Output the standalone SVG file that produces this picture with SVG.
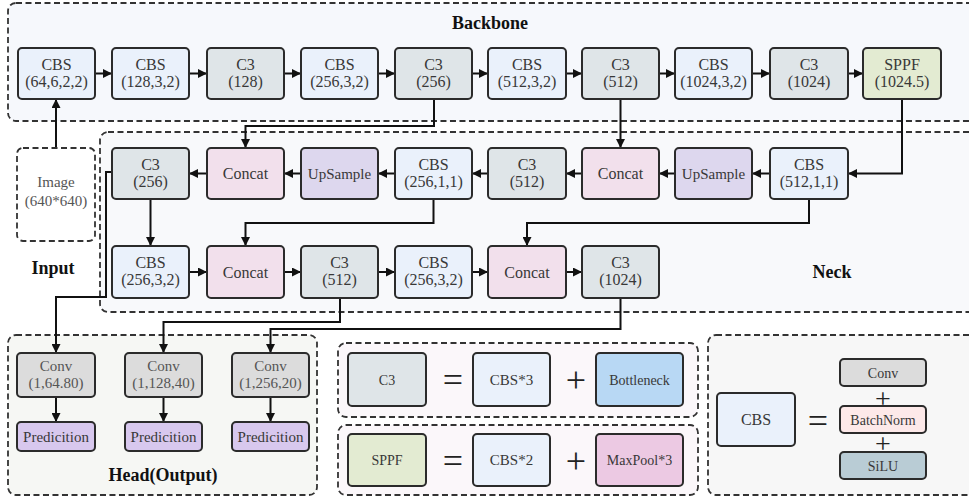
<svg xmlns="http://www.w3.org/2000/svg" width="969" height="500" viewBox="0 0 969 500" font-family="'Liberation Serif', serif">
<defs>
<marker id="ah" viewBox="0 0 10 10" refX="10" refY="5" markerWidth="9" markerHeight="9" markerUnits="userSpaceOnUse" orient="auto">
<path d="M0,0 L10,5 L0,10 z" fill="#111"/>
</marker>
<style>
.box{stroke:#2b2b2b;stroke-width:2;}
.cont{stroke:#333;stroke-width:1.8;stroke-dasharray:6 3.5;}
.cbs{fill:#eaf1fb;}
.c3{fill:#dfe5e8;}
.sppf{fill:#e3ebd2;}
.concat{fill:#f2e0ec;}
.ups{fill:#ddd7ee;}
.conv{fill:#dcdcdc;}
.pred{fill:#d8c8ee;}
.bott{fill:#b8d8f4;}
.maxp{fill:#ecc9e3;}
.bn{fill:#fde9e9;}
.silu{fill:#b9ccd5;}
text{font-family:"Liberation Serif","Times New Roman",serif;fill:#383838;text-anchor:middle;}
.t17{font-size:16px;font-family:"Liberation Serif",serif;}
.t15{font-size:15px;font-family:"Liberation Serif",serif;}
.t14{font-size:14px;font-family:"Liberation Serif",serif;}
.lbl{font-size:18px;font-weight:bold;fill:#111;font-family:"Liberation Serif",serif;}
.sym{font-size:36px;fill:#222;font-family:"Liberation Serif",serif;}
.gray{fill:#555;}
.conn{fill:none;stroke:#111;stroke-width:2;}
</style>
</defs>
<rect width="969" height="500" fill="#ffffff"/>

<g id="containers">
<rect class="cont" x="8" y="3" width="980" height="118" rx="8" fill="#f6f8fc"/>
<rect class="cont" x="100" y="132" width="890" height="180" rx="8" fill="#f8f9fb"/>
<rect class="cont" x="8" y="335" width="309" height="160" rx="8" fill="#f6f7f4"/>
<rect class="cont" x="338" y="343" width="360" height="74" rx="8" fill="#fbf7fa"/>
<rect class="cont" x="338" y="425" width="360" height="70" rx="8" fill="#fbf7fa"/>
<rect class="cont" x="708" y="335" width="290" height="160" rx="8" fill="#f7f7f7"/>
</g>

<g id="labels">
<text class="lbl" x="490" y="29">Backbone</text>
<text class="lbl" x="832" y="278">Neck</text>
<text class="lbl" x="53" y="274">Input</text>
<text class="lbl" x="163" y="481">Head(Output)</text>
</g>

<g id="connectors">
<path class="conn" d="M56,148 L56,99" marker-end="url(#ah)"/>
<path class="conn" d="M95,73.5 L112,73.5" marker-end="url(#ah)"/>
<path class="conn" d="M189,73.5 L207,73.5" marker-end="url(#ah)"/>
<path class="conn" d="M284,73.5 L301,73.5" marker-end="url(#ah)"/>
<path class="conn" d="M378,73.5 L395,73.5" marker-end="url(#ah)"/>
<path class="conn" d="M472,73.5 L488,73.5" marker-end="url(#ah)"/>
<path class="conn" d="M566,73.5 L582,73.5" marker-end="url(#ah)"/>
<path class="conn" d="M659,73.5 L675,73.5" marker-end="url(#ah)"/>
<path class="conn" d="M752,73.5 L770,73.5" marker-end="url(#ah)"/>
<path class="conn" d="M848,73.5 L863,73.5" marker-end="url(#ah)"/>
<path class="conn" d="M434,99 L434,126 L245.5,126 L245.5,148" marker-end="url(#ah)"/>
<path class="conn" d="M620.5,99 L620.5,148" marker-end="url(#ah)"/>
<path class="conn" d="M902,99 L902,173.5 L848,173.5" marker-end="url(#ah)"/>
<path class="conn" d="M770,173.5 L752,173.5" marker-end="url(#ah)"/>
<path class="conn" d="M675,173.5 L659,173.5" marker-end="url(#ah)"/>
<path class="conn" d="M582,173.5 L566,173.5" marker-end="url(#ah)"/>
<path class="conn" d="M488,173.5 L472,173.5" marker-end="url(#ah)"/>
<path class="conn" d="M395,173.5 L378,173.5" marker-end="url(#ah)"/>
<path class="conn" d="M301,173.5 L284,173.5" marker-end="url(#ah)"/>
<path class="conn" d="M207,173.5 L189,173.5" marker-end="url(#ah)"/>
<path class="conn" d="M150.5,199 L150.5,246" marker-end="url(#ah)"/>
<path class="conn" d="M433.5,199 L433.5,223 L245.5,223 L245.5,246" marker-end="url(#ah)"/>
<path class="conn" d="M809,199 L809,223 L527,223 L527,246" marker-end="url(#ah)"/>
<path class="conn" d="M189,272 L207,272" marker-end="url(#ah)"/>
<path class="conn" d="M284,272 L301,272" marker-end="url(#ah)"/>
<path class="conn" d="M378,272 L395,272" marker-end="url(#ah)"/>
<path class="conn" d="M472,272 L488,272" marker-end="url(#ah)"/>
<path class="conn" d="M566,272 L582,272" marker-end="url(#ah)"/>
<path class="conn" d="M112,172 L106,172 L106,297 L56,297 L56,353" marker-end="url(#ah)"/>
<path class="conn" d="M340,298 L340,322 L163.5,322 L163.5,353" marker-end="url(#ah)"/>
<path class="conn" d="M620.5,298 L620.5,329 L270.5,329 L270.5,353" marker-end="url(#ah)"/>
<path class="conn" d="M56,397 L56,422" marker-end="url(#ah)"/>
<path class="conn" d="M163.5,397 L163.5,422" marker-end="url(#ah)"/>
<path class="conn" d="M270.5,397 L270.5,422" marker-end="url(#ah)"/>
</g>

<g id="image-input">
<rect class="cont" x="17" y="148" width="78" height="93" rx="6" fill="#ffffff"/>
<text class="t15 gray" x="56" y="187">Image</text>
<text class="t15 gray" x="56" y="206">(640*640)</text>
</g>

<g id="bb-cbs1"><rect class="box cbs" x="18" y="48" width="77" height="51" rx="4"/><text class="t17" x="56.5" y="70">CBS</text><text class="t17" x="56.5" y="87">(64,6,2,2)</text></g>
<g id="bb-cbs2"><rect class="box cbs" x="112" y="48" width="77" height="51" rx="4"/><text class="t17" x="150.5" y="70">CBS</text><text class="t17" x="150.5" y="87">(128,3,2)</text></g>
<g id="bb-c3-1"><rect class="box c3" x="207" y="48" width="77" height="51" rx="4"/><text class="t17" x="245.5" y="70">C3</text><text class="t17" x="245.5" y="87">(128)</text></g>
<g id="bb-cbs3"><rect class="box cbs" x="301" y="48" width="77" height="51" rx="4"/><text class="t17" x="339.5" y="70">CBS</text><text class="t17" x="339.5" y="87">(256,3,2)</text></g>
<g id="bb-c3-2"><rect class="box c3" x="395" y="48" width="77" height="51" rx="4"/><text class="t17" x="433.5" y="70">C3</text><text class="t17" x="433.5" y="87">(256)</text></g>
<g id="bb-cbs4"><rect class="box cbs" x="488" y="48" width="78" height="51" rx="4"/><text class="t17" x="527" y="70">CBS</text><text class="t17" x="527" y="87">(512,3,2)</text></g>
<g id="bb-c3-3"><rect class="box c3" x="582" y="48" width="77" height="51" rx="4"/><text class="t17" x="620.5" y="70">C3</text><text class="t17" x="620.5" y="87">(512)</text></g>
<g id="bb-cbs5"><rect class="box cbs" x="675" y="48" width="77" height="51" rx="4"/><text class="t17" x="713.5" y="70">CBS</text><text class="t17" x="713.5" y="87">(1024,3,2)</text></g>
<g id="bb-c3-4"><rect class="box c3" x="770" y="48" width="78" height="51" rx="4"/><text class="t17" x="809" y="70">C3</text><text class="t17" x="809" y="87">(1024)</text></g>
<g id="bb-sppf"><rect class="box sppf" x="863" y="48" width="78" height="51" rx="4"/><text class="t17" x="902" y="70">SPPF</text><text class="t17" x="902" y="87">(1024.5)</text></g>

<g id="nk-c3-256"><rect class="box c3" x="112" y="148" width="77" height="51" rx="4"/><text class="t17" x="150.5" y="170">C3</text><text class="t17" x="150.5" y="187">(256)</text></g>
<g id="nk-concat1"><rect class="box concat" x="207" y="148" width="77" height="51" rx="4"/><text class="t17" x="245.5" y="179">Concat</text></g>
<g id="nk-ups1"><rect class="box ups" x="301" y="148" width="77" height="51" rx="4"/><text class="t15" x="339.5" y="179">UpSample</text></g>
<g id="nk-cbs-256"><rect class="box cbs" x="395" y="148" width="77" height="51" rx="4"/><text class="t17" x="433.5" y="170">CBS</text><text class="t17" x="433.5" y="187">(256,1,1)</text></g>
<g id="nk-c3-512a"><rect class="box c3" x="488" y="148" width="78" height="51" rx="4"/><text class="t17" x="527" y="170">C3</text><text class="t17" x="527" y="187">(512)</text></g>
<g id="nk-concat2"><rect class="box concat" x="582" y="148" width="77" height="51" rx="4"/><text class="t17" x="620.5" y="179">Concat</text></g>
<g id="nk-ups2"><rect class="box ups" x="675" y="148" width="77" height="51" rx="4"/><text class="t15" x="713.5" y="179">UpSample</text></g>
<g id="nk-cbs-512"><rect class="box cbs" x="770" y="148" width="78" height="51" rx="4"/><text class="t17" x="809" y="170">CBS</text><text class="t17" x="809" y="187">(512,1,1)</text></g>

<g id="nk-cbs-a"><rect class="box cbs" x="112" y="246" width="77" height="52" rx="4"/><text class="t17" x="150.5" y="268">CBS</text><text class="t17" x="150.5" y="285">(256,3,2)</text></g>
<g id="nk-concat3"><rect class="box concat" x="207" y="246" width="77" height="52" rx="4"/><text class="t17" x="245.5" y="278">Concat</text></g>
<g id="nk-c3-512b"><rect class="box c3" x="301" y="246" width="77" height="52" rx="4"/><text class="t17" x="339.5" y="268">C3</text><text class="t17" x="339.5" y="285">(512)</text></g>
<g id="nk-cbs-b"><rect class="box cbs" x="395" y="246" width="77" height="52" rx="4"/><text class="t17" x="433.5" y="268">CBS</text><text class="t17" x="433.5" y="285">(256,3,2)</text></g>
<g id="nk-concat4"><rect class="box concat" x="488" y="246" width="78" height="52" rx="4"/><text class="t17" x="527" y="278">Concat</text></g>
<g id="nk-c3-1024"><rect class="box c3" x="582" y="246" width="77" height="52" rx="4"/><text class="t17" x="620.5" y="268">C3</text><text class="t17" x="620.5" y="285">(1024)</text></g>

<g id="hd-conv1"><rect class="box conv" x="17" y="353" width="78" height="44" rx="4"/><text class="t15 gray" x="56" y="371">Conv</text><text class="t15 gray" x="56" y="388">(1,64.80)</text></g>
<g id="hd-conv2"><rect class="box conv" x="125" y="353" width="77" height="44" rx="4"/><text class="t15 gray" x="163.5" y="371">Conv</text><text class="t15 gray" x="163.5" y="388">(1,128,40)</text></g>
<g id="hd-conv3"><rect class="box conv" x="232" y="353" width="77" height="44" rx="4"/><text class="t15 gray" x="270.5" y="371">Conv</text><text class="t15 gray" x="270.5" y="388">(1,256,20)</text></g>
<g id="hd-pred1"><rect class="box pred" x="17" y="422" width="78" height="29" rx="4"/><text class="t15" x="56" y="442">Predicition</text></g>
<g id="hd-pred2"><rect class="box pred" x="125" y="422" width="77" height="29" rx="4"/><text class="t15" x="163.5" y="442">Predicition</text></g>
<g id="hd-pred3"><rect class="box pred" x="232" y="422" width="77" height="29" rx="4"/><text class="t15" x="270.5" y="442">Predicition</text></g>

<g id="lg-c3">
<rect class="box c3" x="348" y="353" width="78" height="53" rx="4"/><text class="t14" x="387" y="385">C3</text>
<text class="sym" x="453" y="392">=</text>
<rect class="box cbs" x="473" y="353" width="77" height="53" rx="4"/><text class="t15" x="511.5" y="385">CBS*3</text>
<text class="sym" x="576" y="392">+</text>
<rect class="box bott" x="596" y="353" width="87" height="53" rx="4"/><text class="t14" x="639.5" y="385">Bottleneck</text>
</g>
<g id="lg-sppf">
<rect class="box sppf" x="348" y="434" width="78" height="52" rx="4"/><text class="t14" x="387" y="465">SPPF</text>
<text class="sym" x="453" y="473">=</text>
<rect class="box cbs" x="473" y="434" width="77" height="52" rx="4"/><text class="t15" x="511.5" y="465">CBS*2</text>
<text class="sym" x="576" y="473">+</text>
<rect class="box maxp" x="596" y="434" width="87" height="52" rx="4"/><text class="t14" x="639.5" y="465">MaxPool*3</text>
</g>
<g id="lg-cbs">
<rect class="box cbs" x="717" y="393" width="78" height="53" rx="4"/><text class="t17" x="756" y="425">CBS</text>
<text class="sym" x="818" y="433">=</text>
<rect class="box conv" x="840" y="359" width="86" height="27" rx="4"/><text class="t14" x="883" y="378">Conv</text>
<text class="sym" x="883" y="408" style="font-size:28px">+</text>
<rect class="box bn" x="840" y="406" width="86" height="27" rx="4"/><text class="t14" x="883" y="425">BatchNorm</text>
<text class="sym" x="883" y="453" style="font-size:28px">+</text>
<rect class="box silu" x="840" y="452" width="86" height="27" rx="4"/><text class="t14" x="883" y="471">SiLU</text>
</g>
</svg>
